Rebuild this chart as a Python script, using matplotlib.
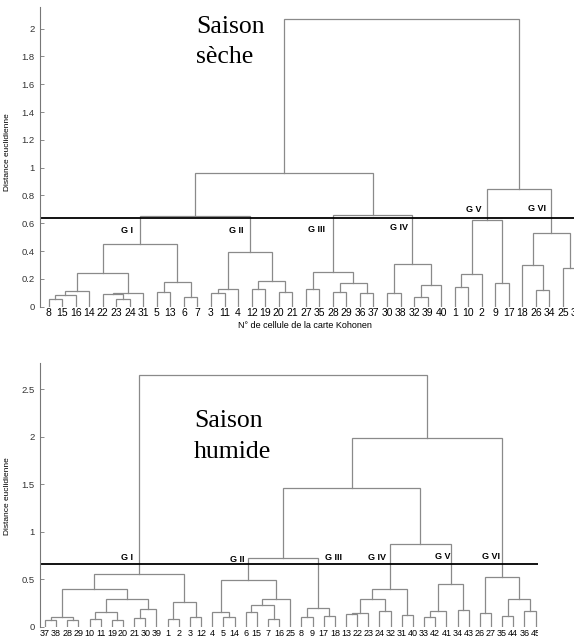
import matplotlib
matplotlib.use("Agg")
import matplotlib.pyplot as plt
from matplotlib.transforms import Bbox, TransformedBbox

plt.rcParams["font.family"] = ["Liberation Sans", "DejaVu Sans"]

W, H = 574, 636

# --- Saison sèche ---------------------------------------------------------
dry_leaves = [8, 15, 16, 14, 22, 23, 24, 31, 5, 13, 6, 7, 3, 11, 4, 12, 19, 20,
              21, 27, 35, 28, 29, 36, 37, 30, 38, 32, 39, 40, 1, 10, 2, 9, 17,
              18, 26, 34, 25, 33]
# (new cluster, left child, right child, fusion distance)
dry_merges = [
    ("a1", 8, 15, 0.053), ("a2", "a1", 16, 0.084), ("a3", "a2", 14, 0.113),
    ("a4", 23, 24, 0.055), ("a5", 22, "a4", 0.088), ("a6", "a5", 31, 0.098),
    ("a7", "a3", "a6", 0.24), ("a8", 5, 13, 0.106), ("a9", 6, 7, 0.072),
    ("a10", "a8", "a9", 0.175), ("G1", "a7", "a10", 0.449),
    ("b1", 3, 11, 0.096), ("b2", "b1", 4, 0.128), ("b3", 12, 19, 0.13),
    ("b4", 20, 21, 0.106), ("b5", "b3", "b4", 0.185), ("G2", "b2", "b5", 0.39),
    ("c1", 27, 35, 0.125), ("c2", 28, 29, 0.106), ("c3", 36, 37, 0.10),
    ("c4", "c2", "c3", 0.168), ("G3", "c1", "c4", 0.252),
    ("d1", 30, 38, 0.096), ("d2", 32, 39, 0.068), ("d3", "d2", 40, 0.156),
    ("G4", "d1", "d3", 0.305),
    ("e1", 1, 10, 0.144), ("e2", "e1", 2, 0.235), ("e3", 9, 17, 0.168),
    ("G5", "e2", "e3", 0.625),
    ("f1", 26, 34, 0.12), ("f2", 18, "f1", 0.30), ("f3", 25, 33, 0.28),
    ("G6", "f2", "f3", 0.53),
    ("G12", "G1", "G2", 0.65), ("G34", "G3", "G4", 0.66),
    ("L", "G12", "G34", 0.96), ("R", "G5", "G6", 0.845),
    ("root", "L", "R", 2.07),
]
dry_cut = 0.636
dry_groups = ["G I", "G II", "G III", "G IV", "G V", "G VI"]
dry_group_x = [5.8, 13.9, 19.8, 25.9, 31.4, 36.1]
dry_group_y = [0.545, 0.545, 0.554, 0.573, 0.70, 0.71]
dry_yticks = [0, 0.2, 0.4, 0.6, 0.8, 1, 1.2, 1.4, 1.6, 1.8, 2]
dry_yticklabels = ["0", "0.2", "0.4", "0.6", "0.8", "1", "1.2", "1.4", "1.6", "1.8", "2"]

# --- Saison humide --------------------------------------------------------
wet_leaves = [37, 38, 28, 29, 10, 11, 19, 20, 21, 30, 39, 1, 2, 3, 12, 4, 5, 14,
              6, 15, 7, 16, 25, 8, 9, 17, 18, 13, 22, 23, 24, 32, 31, 40, 33,
              42, 41, 34, 43, 26, 27, 35, 44, 36, 45]
wet_merges = [
    ("a1", 37, 38, 0.07), ("a2", 28, 29, 0.07), ("a3", "a1", "a2", 0.106),
    ("a4", 10, 11, 0.077), ("a5", 19, 20, 0.07), ("a6", "a4", "a5", 0.151),
    ("a7", 21, 30, 0.095), ("a8", "a7", 39, 0.183), ("a9", "a6", "a8", 0.295),
    ("a10", "a3", "a9", 0.393), ("a11", 1, 2, 0.085), ("a12", 3, 12, 0.102),
    ("a13", "a11", "a12", 0.256), ("G1", "a10", "a13", 0.55),
    ("b1", 5, 14, 0.106), ("b2", 4, "b1", 0.151), ("b3", 6, 15, 0.151),
    ("b4", 7, 16, 0.077), ("b5", "b3", "b4", 0.228), ("b6", "b5", 25, 0.288),
    ("G2", "b2", "b6", 0.487),
    ("c1", 8, 9, 0.105), ("c2", 17, 18, 0.116), ("G3", "c1", "c2", 0.2),
    ("d1", 13, 22, 0.13), ("d2", "d1", 23, 0.14), ("d3", 24, 32, 0.165),
    ("d4", "d2", "d3", 0.292), ("d5", 31, 40, 0.125), ("G4", "d4", "d5", 0.397),
    ("e1", 33, 42, 0.105), ("e2", "e1", 41, 0.168), ("e3", 34, 43, 0.175),
    ("G5", "e2", "e3", 0.446),
    ("f1", 26, 27, 0.14), ("f2", 35, 44, 0.113), ("f3", 36, 45, 0.165),
    ("f4", "f2", "f3", 0.288), ("G6", "f1", "f4", 0.52),
    ("G23", "G2", "G3", 0.72), ("G45", "G4", "G5", 0.867),
    ("M", "G23", "G45", 1.457), ("R", "M", "G6", 1.99),
    ("root", "G1", "R", 2.65),
]
wet_cut = 0.657
wet_groups = ["G I", "G II", "G III", "G IV", "G V", "G VI"]
wet_group_x = [7.4, 17.2, 25.9, 29.8, 35.65, 40.0]
wet_group_y = [0.726, 0.708, 0.726, 0.726, 0.741, 0.741]
wet_yticks = [0, 0.5, 1, 1.5, 2, 2.5]
wet_yticklabels = ["0", "0.5", "1", "1.5", "2", "2.5"]

LINE = "#8a8a8a"


def add_px_axes(fig, left, top, right, bottom):
    return fig.add_axes([left / W, 1 - bottom / H, (right - left) / W, (bottom - top) / H])


def draw_dendrogram(ax, leaves, merges):
    pos = {str(leaf): (i, 0.0) for i, leaf in enumerate(leaves)}
    for name, a, b, h in merges:
        xa, ya = pos[str(a)]
        xb, yb = pos[str(b)]
        ax.plot([xa, xa, xb, xb], [ya, h, h, yb], color=LINE, lw=0.9,
                solid_joinstyle="miter")
        pos[name] = ((xa + xb) / 2, h)


def style_axes(ax, yticks, yticklabels):
    for side in ("top", "right", "bottom"):
        ax.spines[side].set_visible(False)
    ax.spines["left"].set_color("#777777")
    ax.spines["left"].set_linewidth(0.8)
    ax.set_xticks([])
    ax.set_yticks(yticks)
    ax.set_yticklabels(yticklabels)
    ax.tick_params(axis="y", direction="in", length=3, width=0.6, color="#777777",
                   labelsize=6.8, labelcolor="#333333", pad=4)


fig = plt.figure(figsize=(W / 100, H / 100), dpi=100)

# top panel
ax1 = add_px_axes(fig, 40, 7, 600, 306.7)
draw_dendrogram(ax1, dry_leaves, dry_merges)
ax1.axhline(dry_cut, color="black", lw=1.3)
ax1.set_xlim(-0.63, 40.73)
ax1.set_ylim(0, 2.156)
style_axes(ax1, dry_yticks, dry_yticklabels)
for i, leaf in enumerate(dry_leaves):
    ax1.text(i, -0.004, str(leaf), transform=ax1.get_xaxis_transform(),
             ha="center", va="top", fontsize=7.5)
for g, gx, gy in zip(dry_groups, dry_group_x, dry_group_y):
    ax1.text(gx, gy, g, ha="center", va="center", fontsize=6.5, fontweight="bold")

# bottom panel
ax2 = add_px_axes(fig, 40, 363, 538, 626.7)
draw_dendrogram(ax2, wet_leaves, wet_merges)
ax2.axhline(wet_cut, color="black", lw=1.3)
ax2.set_xlim(-0.448, 44.22)
ax2.set_ylim(0, 2.777)
style_axes(ax2, wet_yticks, wet_yticklabels)
clip = TransformedBbox(Bbox([[0, 0], [538 / W, 1]]), fig.transFigure)
for i, leaf in enumerate(wet_leaves):
    t = ax2.text(i, -0.007, str(leaf), transform=ax2.get_xaxis_transform(),
                 ha="center", va="top", fontsize=6.5)
    t.set_clip_box(clip)
    t.set_clip_on(True)
for g, gx, gy in zip(wet_groups, wet_group_x, wet_group_y):
    ax2.text(gx, gy, g, ha="center", va="center", fontsize=6.5, fontweight="bold")

# titles and axis labels
serif = ["Liberation Serif", "DejaVu Serif"]
fig.text(196 / W, 1 - 33.3 / H, "Saison", family=serif, fontsize=18.5, va="baseline")
fig.text(196 / W, 1 - 63.3 / H, "sèche", family=serif, fontsize=18.5, va="baseline")
fig.text(194 / W, 1 - 426.7 / H, "Saison", family=serif, fontsize=18.5, va="baseline")
fig.text(194 / W, 1 - 458.3 / H, "humide", family=serif, fontsize=18.5, va="baseline")

fig.text(8 / W, 1 - 152 / H, "Distance euclidienne", rotation=90,
         ha="center", va="center", fontsize=6)
fig.text(8 / W, 1 - 496 / H, "Distance euclidienne", rotation=90,
         ha="center", va="center", fontsize=6)
fig.text(305 / W, 1 - 326 / H, "N° de cellule de la carte Kohonen",
         ha="center", va="center", fontsize=6.5)

fig.savefig("out.png", dpi=100)
